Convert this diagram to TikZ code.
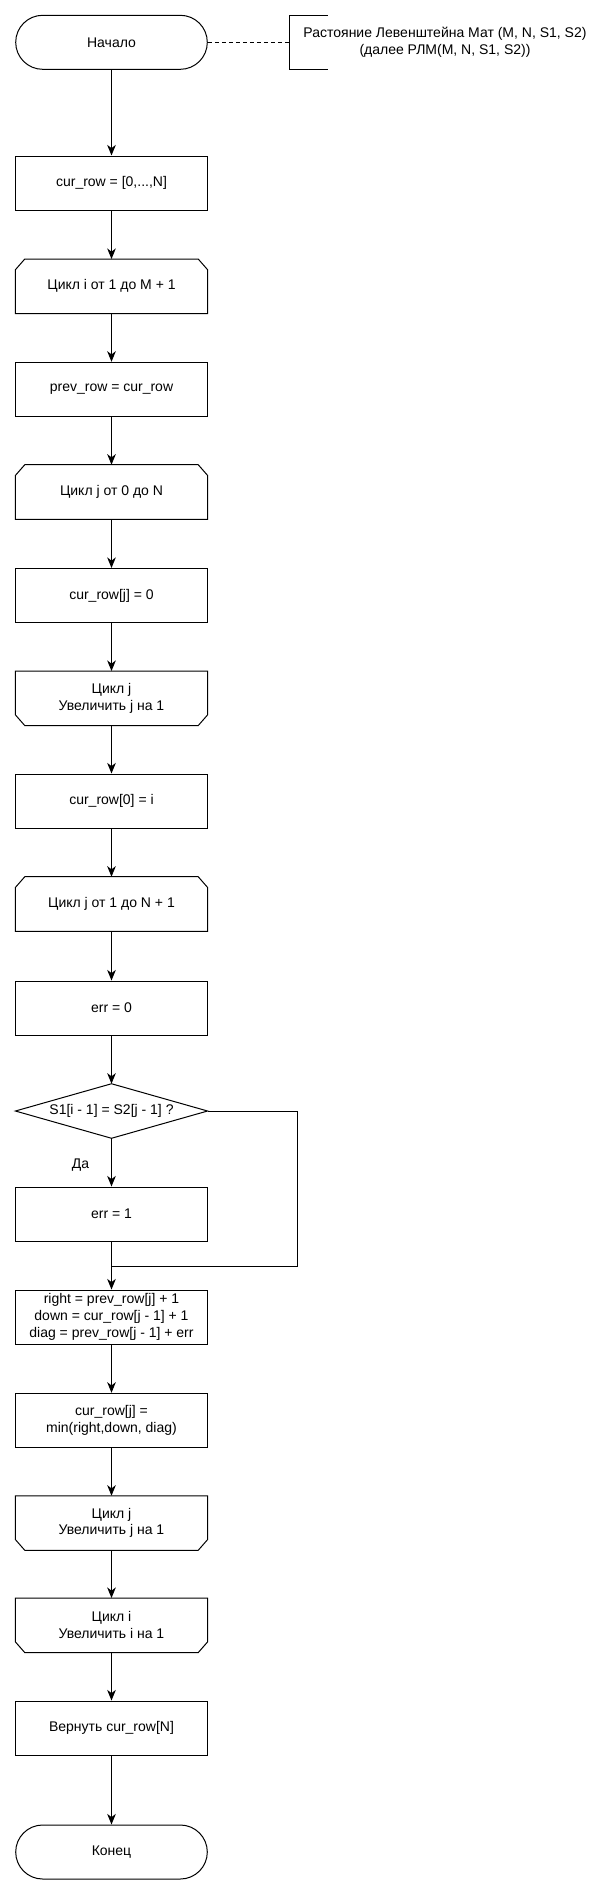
\documentclass[tikz,border=0pt]{standalone}
\usepackage{fontspec}
\setmainfont{Liberation Sans}
\usetikzlibrary{arrows.meta}
\newcommand\lsframe[1]{\draw[line] ([xshift=7pt]#1.north west) -- ([xshift=-7pt]#1.north east) -- ([yshift=-8pt]#1.north east) -- (#1.south east) -- (#1.south west) -- ([yshift=-8pt]#1.north west) -- cycle;}
\newcommand\leframe[1]{\draw[line] (#1.north west) -- (#1.north east) -- ([yshift=8pt]#1.south east) -- ([xshift=-7pt]#1.south east) -- ([xshift=7pt]#1.south west) -- ([yshift=8pt]#1.south west) -- cycle;}
\begin{document}
\begin{tikzpicture}[x=0.75pt,y=-0.75pt,
  every node/.style={font=\fontsize{10.5pt}{12.5pt}\selectfont, inner sep=0pt, align=center},
  line/.style={line width=0.75pt, black},
  plain/.style={rectangle, minimum width=143.7pt, minimum height=40.5pt},
  box/.style={plain, draw, line width=0.75pt},
  term/.style={box, rounded corners=20.25pt},
  flow/.style={line, -{Stealth[length=8pt,width=6.5pt,inset=2.5pt]}}]
\fill[white] (0,0) rectangle (614,1895);
\useasboundingbox (0,0) rectangle (614,1895);

\node[term] (start) at (111.5,42.3) {Начало};
\node[plain, minimum width=232.5pt] (ann) at (445,42.3) {Растояние Левенштейна Мат (M, N, S1, S2)\\(далее РЛМ(M, N, S1, S2))};
\draw[line] ([xshift=28.5pt]ann.north west) -- (ann.north west) -- (ann.south west) -- ([xshift=28.5pt]ann.south west);

\node[box] (init) at (111.5,183) {cur\_row = [0,...,N]};
\node[plain] (li) at (111.5,286.3) {Цикл i от 1 до M + 1};
\lsframe{li}
\node[box] (prev) at (111.5,389.3) {prev\_row = cur\_row};
\node[plain] (lj0) at (111.5,492) {Цикл j от 0 до N};
\lsframe{lj0}
\node[box] (zero) at (111.5,595.5) {cur\_row[j] = 0};
\node[plain] (ej0) at (111.5,698.3) {Цикл j\\Увеличить j на 1};
\leframe{ej0}
\node[box] (row0) at (111.5,801) {cur\_row[0] = i};
\node[plain] (lj1) at (111.5,904) {Цикл j от 1 до N + 1};
\lsframe{lj1}
\node[box] (err0) at (111.5,1008) {err = 0};
\node[plain] (cond) at (111.5,1111) {S1[i - 1] = S2[j - 1] ?};
\draw[line] (cond.north) -- (cond.east) -- (cond.south) -- (cond.west) -- cycle;
\node[box] (err1) at (111.5,1214) {err = 1};
\node[box] (calc) at (111.5,1317) {right = prev\_row[j] + 1\\down = cur\_row[j - 1] + 1\\diag = prev\_row[j - 1] + err};
\node[box] (mn) at (111.5,1420.3) {cur\_row[j] =\\min(right,down, diag)};
\node[plain] (ej1) at (111.5,1523) {Цикл j\\Увеличить j на 1};
\leframe{ej1}
\node[plain] (ei) at (111.5,1625.3) {Цикл i\\Увеличить i на 1};
\leframe{ei}
\node[box] (ret) at (111.5,1728) {Вернуть cur\_row[N]};
\node[term] (stop) at (111.5,1852) {Конец};

\draw[line, dash pattern=on 3pt off 2.25pt] (start.east) -- (ann.west);
\draw[flow] (start) -- (init);
\draw[flow] (init) -- (li);
\draw[flow] (li) -- (prev);
\draw[flow] (prev) -- (lj0);
\draw[flow] (lj0) -- (zero);
\draw[flow] (zero) -- (ej0);
\draw[flow] (ej0) -- (row0);
\draw[flow] (row0) -- (lj1);
\draw[flow] (lj1) -- (err0);
\draw[flow] (err0) -- (cond.north);
\draw[flow] (cond.south) -- (err1);
\node (yes) at (80.5,1165) {Да};
\coordinate (corner) at (297,1266);
\coordinate (merge) at (111.5,1266);
\draw[line] (cond.east) -| (corner) -- (merge);
\draw[flow] (err1) -- (calc);
\draw[flow] (calc) -- (mn);
\draw[flow] (mn) -- (ej1);
\draw[flow] (ej1) -- (ei);
\draw[flow] (ei) -- (ret);
\draw[flow] (ret) -- (stop);
\end{tikzpicture}
\end{document}
